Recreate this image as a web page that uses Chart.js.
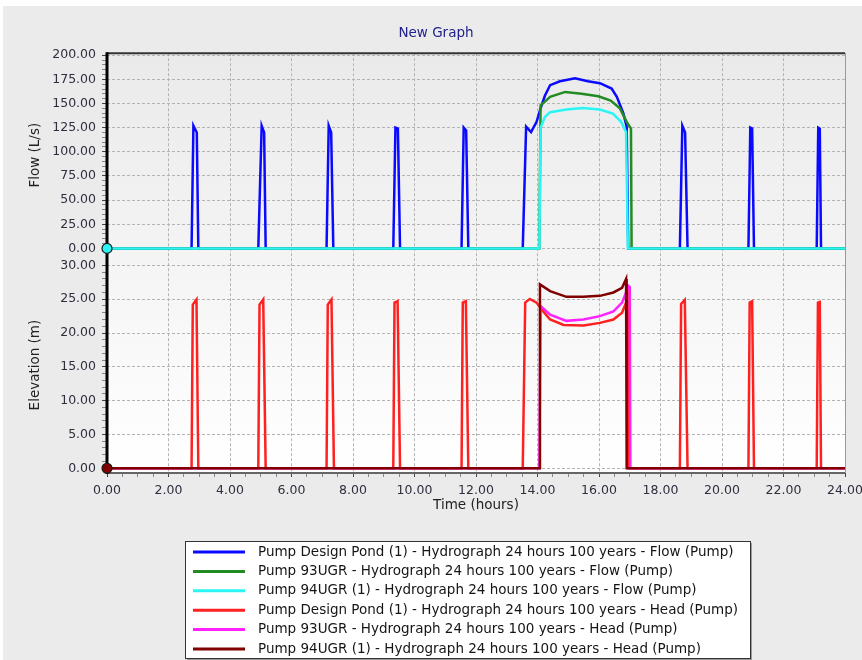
<!DOCTYPE html>
<html>
<head>
<meta charset="utf-8">
<script src="https://cdn.jsdelivr.net/npm/chart.js@4"></script>
<style>
  html, body { margin: 0; padding: 0; background: #fff; }
</style>
</head>
<body>
<canvas id="graph" width="862" height="660"></canvas>
<script>
// time (hours) / value pairs, one pair of arrays per series
const pondFlowT = [0, 2.75, 2.81, 2.92, 2.97, 4.92, 5.03, 5.11, 5.16, 7.14, 7.21, 7.29, 7.36,
    9.31, 9.38, 9.46, 9.53, 11.53, 11.60, 11.68, 11.75,
    13.52, 13.63, 13.79, 13.97, 14.10, 14.24, 14.41, 14.73, 15.22, 15.64, 16.03, 16.41, 16.58, 16.79, 16.90, 16.95,
    18.63, 18.71, 18.80, 18.88, 20.86, 20.92, 20.98, 21.04, 23.08, 23.13, 23.18, 23.22, 24];
const pondFlowQ = [0, 0, 127, 120, 0, 0, 127, 120, 0, 0, 127, 120, 0,
    0, 125, 124, 0, 0, 125, 122, 0,
    0, 126, 120.5, 131, 145, 158, 169, 173, 176, 173, 171, 165.5, 157, 140, 126, 0,
    0, 127, 120, 0, 0, 125, 124, 0, 0, 125, 124, 0, 0];

const ugr93FlowT = [0, 14.06, 14.10, 14.24, 14.41, 14.90, 15.43, 15.98, 16.38, 16.68, 16.90, 17.04, 17.06, 24];
const ugr93FlowQ = [0, 0, 148, 152, 157, 162, 160, 157.5, 153, 145, 131, 124, 0, 0];

const ugr94FlowT = [0, 14.06, 14.10, 14.24, 14.41, 14.94, 15.46, 16.03, 16.45, 16.72, 16.88, 16.94, 24];
const ugr94FlowQ = [0, 0, 125, 136, 141, 143.7, 145.4, 143.7, 139.6, 131, 120.5, 0, 0];

const pondHeadT = [0, 2.75, 2.79, 2.91, 2.97, 4.92, 4.96, 5.08, 5.16, 7.14, 7.18, 7.30, 7.38,
    9.31, 9.35, 9.45, 9.53, 11.53, 11.57, 11.67, 11.75,
    13.52, 13.60, 13.75, 13.97, 14.13, 14.41, 14.85, 15.50, 16.03, 16.47, 16.75, 16.88, 16.93, 16.96,
    18.63, 18.67, 18.79, 18.88, 20.86, 20.90, 20.98, 21.04, 23.08, 23.12, 23.18, 23.22, 24];
const pondHeadH = [0, 0, 24.2, 24.95, 0, 0, 24.2, 24.95, 0, 0, 24.2, 24.95, 0,
    0, 24.5, 24.7, 0, 0, 24.5, 24.7, 0,
    0, 24.5, 25.05, 24.5, 23.5, 22, 21.2, 21.1, 21.5, 22, 23, 24.5, 25.5, 0,
    0, 24.3, 24.9, 0, 0, 24.5, 24.7, 0, 0, 24.5, 24.6, 0, 0];

const ugr93HeadT = [0, 14.06, 14.10, 14.41, 14.94, 15.49, 16.03, 16.47, 16.75, 16.88, 16.95, 17.00, 17.02, 24];
const ugr93HeadH = [0, 0, 24, 22.7, 21.8, 22, 22.5, 23.2, 24.5, 26, 27, 26.8, 0, 0];

const ugr94HeadT = [0, 14.06, 14.08, 14.41, 14.94, 15.49, 16.03, 16.47, 16.75, 16.88, 16.90, 24];
const ugr94HeadH = [0, 0, 27.2, 26.2, 25.35, 25.35, 25.5, 26, 26.7, 28.0, 0, 0];

const seriesLabels = [
    'Pump Design Pond (1) - Hydrograph 24 hours 100 years - Flow (Pump)',
    'Pump 93UGR - Hydrograph 24 hours 100 years - Flow (Pump)',
    'Pump 94UGR (1) - Hydrograph 24 hours 100 years - Flow (Pump)',
    'Pump Design Pond (1) - Hydrograph 24 hours 100 years - Head (Pump)',
    'Pump 93UGR - Hydrograph 24 hours 100 years - Head (Pump)',
    'Pump 94UGR (1) - Hydrograph 24 hours 100 years - Head (Pump)',
];

// axis ticks: [first, last, major step, minor step]
const timeTicks = [0, 24, 2, 0.5];
const flowTicks = [0, 200, 25, 5];
const elevationTicks = [0, 30, 5, 1];

const seriesColors = ['#0a0aff', '#228b22', '#2af5f5', '#ff2020', '#ff22ff', '#800000'];
const gridColor = '#b4b4b4';
const tickText = '#2e2e3e';
const tickFont = { family: 'DejaVu Sans', size: 12.5 };
const titleFont = { family: 'DejaVu Sans', size: 13.5 };

function pts(ts, vs) {
    return ts.map((t, i) => ({ x: t, y: vs[i] }));
}

function tickList(spec) {
    const [first, last, major, minor] = spec;
    const n = Math.round((last - first) / minor);
    const every = Math.round(major / minor);
    const out = [];
    for (let k = 0; k <= n; k++) {
        out.push({ value: first + k * minor, major: k % every === 0 });
    }
    return out;
}

function lineSet(i, ts, vs, axis, marker) {
    return {
        label: seriesLabels[i],
        data: pts(ts, vs),
        yAxisID: axis,
        borderColor: seriesColors[i],
        backgroundColor: seriesColors[i],
        borderWidth: 2.5,
        tension: 0,
        fill: false,
        order: -i,
        clip: false,
        pointRadius: marker ? (c => c.dataIndex === 0 ? 5 : 0) : 0,
        pointHoverRadius: 0,
        pointBackgroundColor: seriesColors[i],
        pointBorderColor: '#1a1a1a',
        pointBorderWidth: 1.2,
    };
}

function yAxis(spec, min, max, weight, title) {
    return {
        type: 'linear',
        position: 'left',
        stack: 'panes',
        stackWeight: weight,
        min: min,
        max: max,
        afterBuildTicks: s => { s.ticks = tickList(spec); },
        afterFit: s => { s.width = 80; s.paddingTop = 0; s.paddingBottom = 0; },
        grid: {
            color: c => (c.tick && c.tick.major) ? gridColor : 'rgba(0,0,0,0)',
            tickColor: c => (c.tick && c.tick.major) ? '#444' : '#888',
            tickLength: 5,
            lineWidth: 1,
        },
        border: { display: false, dash: [3, 2] },
        ticks: {
            autoSkip: false,
            padding: 6,
            color: tickText,
            font: tickFont,
            callback: (v, i, t) => t[i].major ? v.toFixed(2) : '',
        },
        title: { display: true, text: title, color: '#222', font: titleFont, padding: 0 },
    };
}

const backdrop = {
    id: 'backdrop',
    beforeDraw(chart) {
        const { ctx, chartArea: a } = chart;
        ctx.save();
        ctx.fillStyle = '#ffffff';
        ctx.fillRect(0, 0, chart.width, chart.height);
        ctx.fillStyle = '#ebebeb';
        ctx.fillRect(3, 6, chart.width - 3, chart.height - 6);
        const g = ctx.createLinearGradient(0, a.top, 0, a.bottom);
        g.addColorStop(0, '#eaeaea');
        g.addColorStop(1, '#ffffff');
        ctx.fillStyle = g;
        ctx.fillRect(a.left, a.top, a.right - a.left, a.bottom - a.top);
        ctx.restore();
    },
    beforeDatasetsDraw(chart) {
        const { ctx, chartArea: a } = chart;
        ctx.save();
        ctx.strokeStyle = '#333';
        ctx.lineWidth = 2;
        ctx.beginPath();
        ctx.moveTo(a.left, a.top);
        ctx.lineTo(a.right, a.top);
        ctx.stroke();
        ctx.strokeStyle = '#666';
        ctx.beginPath();
        ctx.moveTo(a.left, a.bottom);
        ctx.lineTo(a.right, a.bottom);
        ctx.stroke();
        ctx.lineWidth = 1;
        ctx.strokeStyle = '#999';
        ctx.beginPath();
        ctx.moveTo(a.right + 0.5, a.top);
        ctx.lineTo(a.right + 0.5, a.bottom);
        ctx.stroke();
        ctx.strokeStyle = '#000';
        ctx.lineWidth = 3;
        ctx.beginPath();
        ctx.moveTo(a.left, a.top - 1);
        ctx.lineTo(a.left, a.bottom + 1);
        ctx.stroke();
        ctx.restore();
    },
};

const boxLegend = {
    id: 'boxLegend',
    afterDraw(chart) {
        const { ctx } = chart;
        const x0 = 185, y0 = 541, w = 565, h = 117, row = 19.4;
        ctx.save();
        ctx.fillStyle = '#9a9a9a';
        ctx.fillRect(x0 + 2, y0 + 2, w, h);
        ctx.fillStyle = '#ffffff';
        ctx.fillRect(x0, y0, w, h);
        ctx.strokeStyle = '#333';
        ctx.lineWidth = 1;
        ctx.strokeRect(x0 + 0.5, y0 + 0.5, w, h);
        ctx.font = '13.5px "DejaVu Sans"';
        ctx.textBaseline = 'middle';
        chart.data.datasets.forEach((ds, i) => {
            const y = y0 + 11 + i * row;
            ctx.strokeStyle = ds.borderColor;
            ctx.lineWidth = 3;
            ctx.beginPath();
            ctx.moveTo(x0 + 8, y);
            ctx.lineTo(x0 + 60, y);
            ctx.stroke();
            ctx.fillStyle = '#151515';
            ctx.fillText(ds.label, x0 + 73, y);
        });
        ctx.restore();
    },
};

new Chart(document.getElementById('graph'), {
    type: 'line',
    data: {
        datasets: [
            lineSet(0, pondFlowT, pondFlowQ, 'yQ', false),
            lineSet(1, ugr93FlowT, ugr93FlowQ, 'yQ', false),
            lineSet(2, ugr94FlowT, ugr94FlowQ, 'yQ', true),
            lineSet(3, pondHeadT, pondHeadH, 'yH', false),
            lineSet(4, ugr93HeadT, ugr93HeadH, 'yH', false),
            lineSet(5, ugr94HeadT, ugr94HeadH, 'yH', true),
        ],
    },
    options: {
        responsive: false,
        animation: false,
        layout: { padding: { left: 27, right: 17, top: 0, bottom: 146 } },
        plugins: {
            legend: { display: false },
            tooltip: { enabled: false },
            title: {
                display: true,
                text: 'New Graph',
                color: '#22228a',
                font: { family: 'DejaVu Sans', size: 13.5, weight: 'normal' },
                padding: { top: 25, bottom: 12 },
            },
        },
        scales: {
            x: {
                type: 'linear',
                min: timeTicks[0],
                max: timeTicks[1],
                afterBuildTicks: s => { s.ticks = tickList(timeTicks); },
                afterFit: s => { s.height = 41; s.paddingLeft = 0; s.paddingRight = 0; },
                grid: {
                    color: c => (c.tick && c.tick.major) ? gridColor : 'rgba(0,0,0,0)',
                    tickColor: c => (c.tick && c.tick.major) ? '#444' : '#888',
                    tickLength: 4,
                    lineWidth: 1,
                },
                border: { display: false, dash: [3, 2] },
                ticks: {
                    autoSkip: false,
                    maxRotation: 0,
                    padding: 6,
                    color: tickText,
                    font: tickFont,
                    callback: (v, i, t) => t[i].major ? v.toFixed(2) : '',
                },
                title: { display: true, text: 'Time (hours)', color: '#222', font: titleFont, padding: 0 },
            },
            yH: yAxis(elevationTicks, -0.7, 31.23, 216, 'Elevation (m)'),
            yQ: yAxis(flowTicks, -9.0, 202.07, 204, 'Flow (L/s)'),
        },
    },
    plugins: [backdrop, boxLegend],
});
</script>
</body>
</html>
